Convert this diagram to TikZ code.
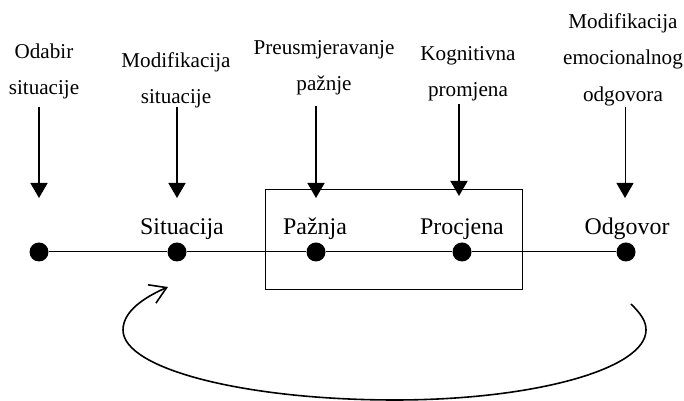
\documentclass[tikz,border=0pt]{standalone}
\usepackage{fontspec}
\setmainfont{Liberation Serif}
\usepackage{tikz}
\usetikzlibrary{arrows.meta}
\usetikzlibrary{calc}

\tikzset{
    dot/.style={circle, fill=black, inner sep=0pt, minimum size=9.5bp},
    lbl/.style={anchor=base, inner sep=0pt, font=\fontsize{12}{14}\selectfont},
    toplbl/.style={anchor=north, inner sep=0pt, align=center, font=\fontsize{10.6}{18.3}\selectfont},
    downarr/.style={line width=0.8pt, -{Triangle[width=8.5bp, length=7.5bp]}}
}

\begin{document}
\begin{tikzpicture}[x=0.5bp, y=0.5bp]
        \useasboundingbox (0,0) rectangle (684,401);
        \node[dot] (start) at (39,149) {};
        \node[dot] (sit) at (177,149) {};
        \node[dot] (paz) at (316,149) {};
        \node[dot] (proc) at (462,149) {};
        \node[dot] (odg) at (626,149) {};
        \draw[line width=0.5pt] (start) -- (sit) -- (paz) -- (proc) -- (odg);
        \draw[line width=0.5pt] (265,211) rectangle (522,111);
        \node[lbl] (sitlbl) at (182,166) {Situacija};
        \node[lbl] (pazlbl) at (315,166) {Pažnja};
        \node[lbl] (proclbl) at (462,166) {Procjena};
        \node[lbl] (odglbl) at (627,166) {Odgovor};
        \node[toplbl] (odabir) at (44,358) {Odabir\\situacije};
        \node[toplbl] (modsit) at (176,349) {Modifikacija\\situacije};
        \node[toplbl] (preus) at (324,361) {Preusmjeravanje\\pažnje};
        \node[toplbl] (kogn) at (468,355) {Kognitivna\\promjena};
        \node[toplbl] (mododg) at (623,388) {Modifikacija\\emocionalnog\\odgovora};
        \coordinate (odabirtop) at (39,294);
        \coordinate (odabirtip) at (39,203);
        \coordinate (modsittop) at (177,294);
        \coordinate (modsittip) at (177,203);
        \coordinate (preustop) at (316,295);
        \coordinate (preustip) at (316,203);
        \coordinate (kogntop) at (459,297);
        \coordinate (kogntip) at (459,205);
        \coordinate (mododgtop) at (625,294);
        \coordinate (mododgtip) at (625,203);
        \draw[downarr] (odabirtop) -- (odabirtip);
        \draw[downarr] (modsittop) -- (modsittip);
        \draw[downarr] (preustop) -- (preustip);
        \draw[downarr] (kogntop) -- (kogntip);
        \draw[downarr, line width=0.5pt] (mododgtop) -- (mododgtip);
        \coordinate (loopstart) at (631,97);
        \coordinate (loopend) at (168,114);
        \draw[line width=0.8pt, -{Straight Barb[length=8bp, width=10bp]}] (loopstart)
            .. controls (641,87) and (646,80) .. (646,71)
            .. controls (646,32) and (534,1) .. (395,1)
            .. controls (245,1) and (123,32) .. (123,71)
            .. controls (123,90) and (145,104) .. (loopend);
        \end{tikzpicture}
\end{document}
